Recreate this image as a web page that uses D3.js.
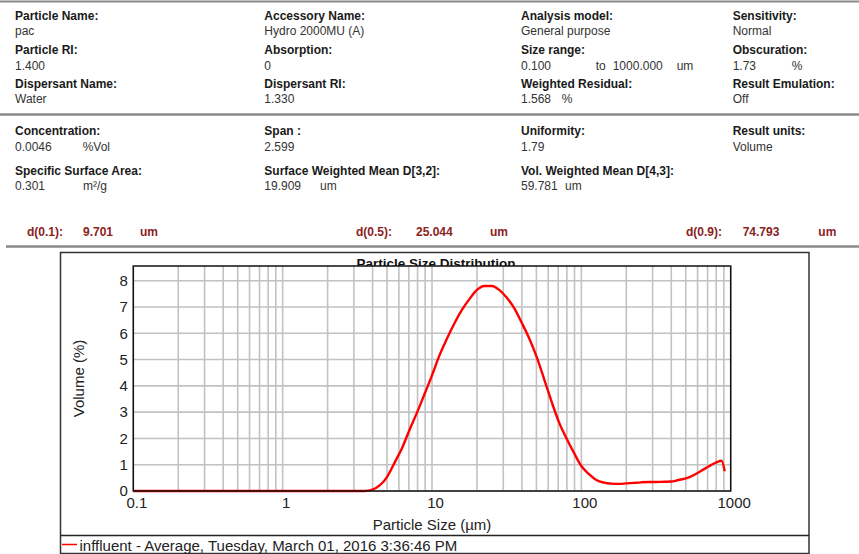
<!DOCTYPE html>
<html>
<head>
<meta charset="utf-8">
<script src="https://cdn.jsdelivr.net/npm/d3@7"></script>
<style>
  html, body { margin: 0; padding: 0; background: #fff; }
  svg { display: block; }
</style>
</head>
<body>
<script>
// ---- Measurement data --------------------------------------------------
// Particle size classes (µm) and the volume density (%) in each class
const sizes = [0.1, 0.5, 1, 2, 3, 3.55, 3.99, 4.48, 5.02, 5.64, 6.32, 7.1, 7.96, 8.93,
  10.0, 11.2, 12.6, 14.2, 15.9, 17.8, 20.0, 22.4, 25.2, 28.2, 31.7, 35.6, 39.9, 44.8,
  50.2, 56.4, 63.2, 71.0, 79.6, 89.3, 100, 112, 126, 142, 159, 178, 200, 224, 252,
  283, 317, 356, 399, 448, 502, 564, 632, 710, 796, 869, 912];
const volumes = [0, 0, 0, 0, 0, 0, 0.05, 0.22, 0.55, 1.1, 1.65, 2.35, 3.0, 3.7,
  4.4, 5.15, 5.8, 6.4, 6.9, 7.3, 7.65, 7.8, 7.8, 7.65, 7.35, 6.95, 6.4, 5.8,
  5.1, 4.25, 3.4, 2.6, 2.0, 1.45, 0.95, 0.65, 0.42, 0.32, 0.28, 0.27, 0.29, 0.31, 0.33,
  0.34, 0.34, 0.35, 0.36, 0.42, 0.48, 0.6, 0.76, 0.93, 1.08, 1.15, 0.75];

const xTicks = [0.1, 1, 10, 100, 1000];
const xTickLabels = ["0.1", "1", "10", "100", "1000"];
const yTicks = [0, 1, 2, 3, 4, 5, 6, 7, 8];
const chartTitle = "Particle Size Distribution";
const xTitle = "Particle Size (\u00B5m)";
const yTitle = "Volume (%)";
const seriesName = "inffluent - Average, Tuesday, March 01, 2016 3:36:46 PM";

// ---- Report header fields: [label, value parts...] ---------------------
const sampleInfo = [["Particle Name:", "pac"], ["Particle RI:", "1.400"], ["Dispersant Name:", "Water"]];
const accessoryInfo = [["Accessory Name:", "Hydro 2000MU (A)"], ["Absorption:", "0"], ["Dispersant RI:", "1.330"]];
const analysisInfo = [["Analysis model:", "General purpose"], ["Size range:", "0.100", "to", "1000.000", "um"], ["Weighted Residual:", "1.568", "%"]];
const instrumentInfo = [["Sensitivity:", "Normal"], ["Obscuration:", "1.73", "%"], ["Result Emulation:", "Off"]];
const resultInfoA = [["Concentration:", "0.0046", "%Vol"], ["Specific Surface Area:", "0.301", "m\u00B2/g"]];
const resultInfoB = [["Span :", "2.599"], ["Surface Weighted Mean D[3,2]:", "19.909", "um"]];
const resultInfoC = [["Uniformity:", "1.79"], ["Vol. Weighted Mean D[4,3]:", "59.781", "um"]];
const resultInfoD = [["Result units:", "Volume"]];
const percentiles = [["d(0.1):", "9.701", "um"], ["d(0.5):", "25.044", "um"], ["d(0.9):", "74.793", "um"]];

// ---- Layout ------------------------------------------------------------
const W = 859, H = 554;
const svg = d3.select("body").append("svg").attr("width", W).attr("height", H);
svg.append("rect").attr("width", W).attr("height", H).attr("fill", "#fff");

const headFont = "'Liberation Sans', Arial, sans-serif";
const chartFont = "'Liberation Sans', Arial, sans-serif";
const headSize = 12;

// tab stops (offset from column start) for the value parts of each field
const tabStops = {
  "Size range:": [0, 74.7, 91.7, 155.7],
  "Weighted Residual:": [0, 40.7],
  "Obscuration:": [0, 59],
  "Concentration:": [0, 67.7],
  "Specific Surface Area:": [0, 68],
  "Surface Weighted Mean D[3,2]:": [0, 55.7],
  "Vol. Weighted Mean D[4,3]:": [0, 44]
};

function drawBlock(fields, x, labelYs, valueYs) {
  const g = svg.append("g");
  fields.forEach((f, i) => {
    g.append("text").attr("x", x).attr("y", labelYs[i])
      .attr("font-family", headFont).attr("font-size", headSize).attr("font-weight", "bold")
      .attr("fill", "#1a1a1a").text(f[0]);
    const stops = tabStops[f[0]] || [0];
    f.slice(1).forEach((p, j) => {
      g.append("text").attr("x", x + stops[j]).attr("y", valueYs[i])
        .attr("font-family", headFont).attr("font-size", headSize)
        .attr("fill", "#333").text(p);
    });
  });
}

// header rules
function hRule(y, x0, x1, w, c) {
  svg.append("line").attr("x1", x0).attr("x2", x1).attr("y1", y).attr("y2", y)
    .attr("stroke", c).attr("stroke-width", w);
}
hRule(1.5, 0, W, 2, "#8a8a8a");
hRule(114.5, 0, W, 2.5, "#8a8a8a");
hRule(246.5, 6, W, 2.5, "#8a8a8a");

const colX = [15, 264.3, 521, 732.7];
drawBlock(sampleInfo, colX[0], [20, 54, 88], [34.5, 70, 103]);
drawBlock(accessoryInfo, colX[1], [20, 54, 88], [34.5, 70, 103]);
drawBlock(analysisInfo, colX[2], [20, 54, 88], [34.5, 70, 103]);
drawBlock(instrumentInfo, colX[3], [20, 54, 88], [34.5, 70, 103]);
drawBlock(resultInfoA, colX[0], [135, 175], [150.5, 190]);
drawBlock(resultInfoB, colX[1], [135, 175], [150.5, 190]);
drawBlock(resultInfoC, colX[2], [135, 175], [150.5, 190]);
drawBlock(resultInfoD, colX[3], [135, 175], [150.5, 190]);

// percentile row
const pctX = [[27, 83, 140], [356, 416, 490], [686, 742.7, 818.3]];
percentiles.forEach((p, i) => {
  p.forEach((t, j) => {
    svg.append("text").attr("x", pctX[i][j]).attr("y", 236)
      .attr("font-family", headFont).attr("font-size", headSize).attr("font-weight", "bold")
      .attr("fill", "#8b2222").text(t);
  });
});

// ---- Chart frame -------------------------------------------------------
svg.append("rect").attr("x", 60.5).attr("y", 252.5).attr("width", 748.5).attr("height", 301)
  .attr("fill", "#fff").attr("stroke", "#333").attr("stroke-width", 1.5);
hRule(535.5, 60.5, 809, 1.5, "#222");

// title sits behind the plot top edge
svg.append("text").attr("x", 436).attr("y", 268).attr("text-anchor", "middle")
  .attr("font-family", chartFont).attr("font-size", 13.5).attr("font-weight", "bold")
  .attr("fill", "#111").text(chartTitle);

const plot = { left: 133.3, right: 730.7, top: 266, bottom: 491 };
const x = d3.scaleLog().domain([0.1, 1000]).range([plot.left, plot.right]);
const y = d3.scaleLinear().domain([0, 8.56]).range([plot.bottom, plot.top]);

svg.append("rect").attr("x", plot.left).attr("y", plot.top)
  .attr("width", plot.right - plot.left).attr("height", plot.bottom - plot.top)
  .attr("fill", "#fff");

// grid
const minorX = [];
[0.1, 1, 10, 100].forEach(dec => { for (let k = 2; k <= 9; k++) minorX.push(dec * k); });
const gridX = minorX.concat(xTicks);
svg.append("g").selectAll("line").data(gridX).join("line")
  .attr("x1", d => x(d)).attr("x2", d => x(d))
  .attr("y1", plot.top).attr("y2", plot.bottom)
  .attr("stroke", "#c2c2c2").attr("stroke-width", 1.6);
svg.append("g").selectAll("line").data(yTicks).join("line")
  .attr("x1", plot.left).attr("x2", plot.right)
  .attr("y1", d => y(d)).attr("y2", d => y(d))
  .attr("stroke", "#c2c2c2").attr("stroke-width", 1.6);

// axes (labels only; plot border drawn below)
const xAxis = d3.axisBottom(x).tickValues(xTicks).tickFormat((d, i) => xTickLabels[i]).tickSize(0).tickPadding(0);
const gx = svg.append("g").attr("transform", `translate(0,${plot.bottom})`).call(xAxis);
gx.select(".domain").remove();
gx.selectAll("text").attr("font-family", chartFont).attr("font-size", 15).attr("fill", "#222")
  .attr("dx", 3).attr("dy", 0).attr("y", 16.5);

const yAxis = d3.axisLeft(y).tickValues(yTicks).tickFormat(d3.format("d")).tickSize(0).tickPadding(5.5);
const gy = svg.append("g").attr("transform", `translate(${plot.left},0)`).call(yAxis);
gy.select(".domain").remove();
gy.selectAll("text").attr("font-family", chartFont).attr("font-size", 15).attr("fill", "#222");

// series
const line = d3.line().x((d, i) => x(sizes[i])).y(d => y(d)).curve(d3.curveMonotoneX);
svg.append("path").datum(volumes).attr("d", line)
  .attr("fill", "none").attr("stroke", "#ff0000").attr("stroke-width", 2.4)
  .attr("stroke-linejoin", "round");

// plot border
svg.append("rect").attr("x", plot.left).attr("y", plot.top)
  .attr("width", plot.right - plot.left).attr("height", plot.bottom - plot.top)
  .attr("fill", "none").attr("stroke", "#111").attr("stroke-width", 1.5);

// axis titles
svg.append("text").attr("x", (plot.left + plot.right) / 2).attr("y", 530)
  .attr("text-anchor", "middle").attr("font-family", chartFont).attr("font-size", 15)
  .attr("fill", "#222").text(xTitle);
svg.append("text").attr("transform", `translate(84,${(plot.top + plot.bottom) / 2}) rotate(-90)`)
  .attr("text-anchor", "middle").attr("font-family", chartFont).attr("font-size", 15)
  .attr("fill", "#222").text(yTitle);

// legend
svg.append("line").attr("x1", 62).attr("x2", 77).attr("y1", 544.5).attr("y2", 544.5)
  .attr("stroke", "#ff0000").attr("stroke-width", 1.5);
svg.append("text").attr("x", 79.5).attr("y", 550.5).attr("font-family", chartFont)
  .attr("font-size", 15).attr("fill", "#222").text(seriesName);
</script>
</body>
</html>
